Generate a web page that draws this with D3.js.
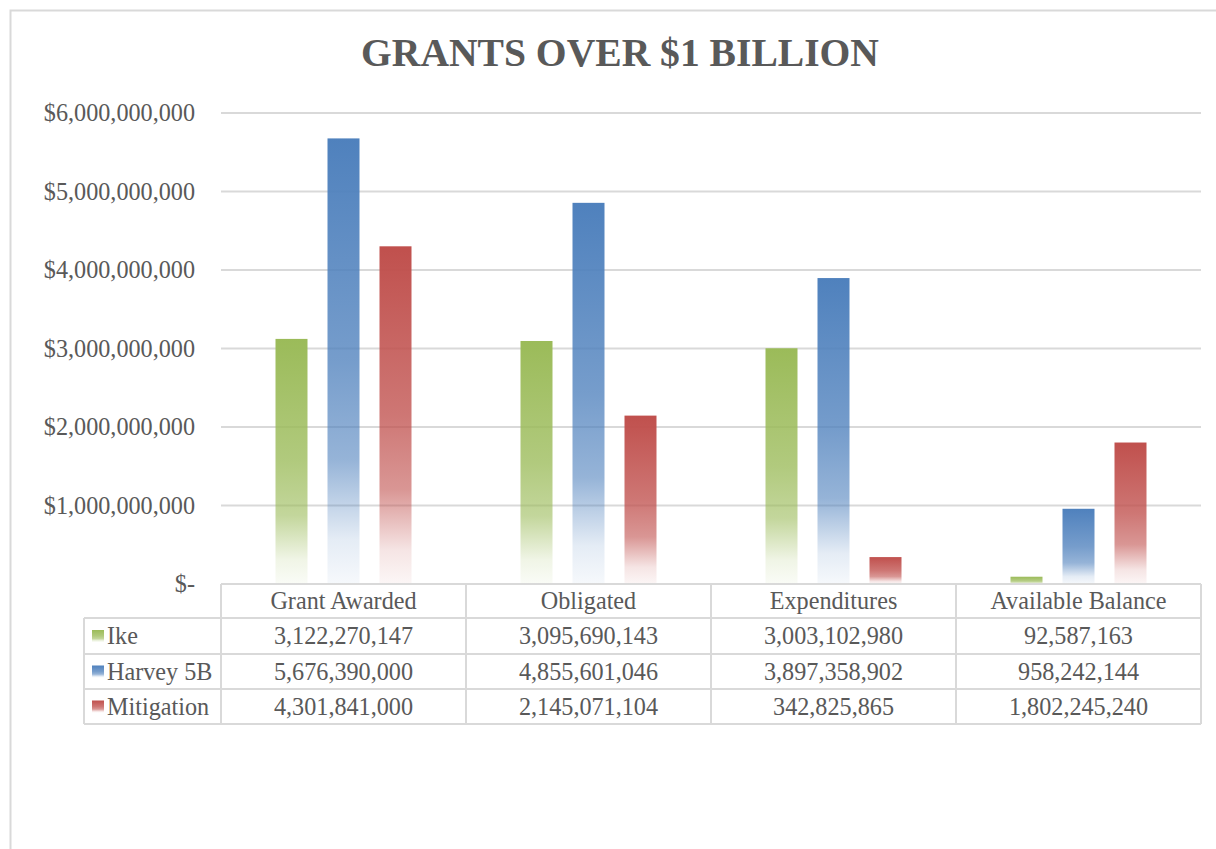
<!DOCTYPE html>
<html>
<head>
<meta charset="utf-8">
<script src="https://cdn.jsdelivr.net/npm/d3@7"></script>
<style>
  html, body { margin: 0; padding: 0; background: #fff; }
  svg { display: block; }
  text { font-family: "Liberation Serif", "Times New Roman", serif; fill: #595959; }
</style>
</head>
<body>
<svg id="chart" width="1216" height="849"></svg>
<script>
const categories = ["Grant Awarded", "Obligated", "Expenditures", "Available Balance"];
const seriesNames = ["Ike", "Harvey 5B", "Mitigation"];
const ike = [3122270147, 3095690143, 3003102980, 92587163];
const harvey = [5676390000, 4855601046, 3897358902, 958242144];
const mitigation = [4301841000, 2145071104, 342825865, 1802245240];
const yTicks = [0, 1e9, 2e9, 3e9, 4e9, 5e9, 6e9];
const seriesColors = ["#9BBB59", "#4F81BD", "#C0504D"];

const series = [ike, harvey, mitigation].map((vals, i) => ({ name: seriesNames[i], color: seriesColors[i], values: vals, id: "g" + i }));

const svg = d3.select("#chart");
const W = 1216, H = 849;
const plot = { left: 221, right: 1201, top: 113, bottom: 584 };
const tableLeft = 84;
const rowEdges = [584, 618, 654, 689, 724];
const fs = 24.2;

// outer border
svg.append("path").attr("d", `M10.5,${H} L10.5,10.5 L${W},10.5`).attr("fill", "none").attr("stroke", "#d9d9d9").attr("stroke-width", 2);

// gradients
const defs = svg.append("defs");
series.forEach(s => {
  const g = defs.append("linearGradient").attr("id", s.id).attr("x1", 0).attr("y1", 0).attr("x2", 0).attr("y2", 1);
  [[0, 1], [0.5, 0.78], [0.72, 0.6], [0.82, 0.35], [0.9, 0.15], [1, 0.05]].forEach(([o, op]) => {
    g.append("stop").attr("offset", o).attr("stop-color", s.color).attr("stop-opacity", op);
  });
});

const y = d3.scaleLinear().domain([0, 6e9]).range([plot.bottom, plot.top]);
const x0 = d3.scaleBand().domain(categories).range([plot.left, plot.right]).padding(0);
const x1 = d3.scaleBand().domain(seriesNames).range([0, 156]).paddingInner(0.3846).paddingOuter(0.1923);

// gridlines
svg.append("g").selectAll("line").data(yTicks.filter(d => d > 0)).join("line")
  .attr("x1", plot.left).attr("x2", plot.right)
  .attr("y1", d => y(d)).attr("y2", d => y(d))
  .attr("stroke", "#d9d9d9").attr("stroke-width", 2);

// y axis labels
const fmt = d3.format(",");
svg.append("g").selectAll("text").data(yTicks).join("text")
  .attr("x", 195).attr("y", d => y(d)).attr("dy", "0.35em")
  .attr("text-anchor", "end").attr("font-size", fs)
  .text(d => d === 0 ? "$-" : "$" + fmt(d));

// bars
const groups = svg.append("g").selectAll("g").data(categories).join("g")
  .attr("transform", c => `translate(${x0(c) + x0.bandwidth() / 2 - 78},0)`);
groups.selectAll("rect").data((c, ci) => series.map(s => ({ s, v: s.values[ci] }))).join("rect")
  .attr("x", d => x1(d.s.name)).attr("width", x1.bandwidth())
  .attr("y", d => y(d.v)).attr("height", d => y(0) - y(d.v))
  .attr("fill", d => `url(#${d.s.id})`);

// title
svg.append("text").attr("x", 620).attr("y", 66).attr("text-anchor", "middle")
  .attr("font-size", 39.6).attr("font-weight", "bold").attr("fill", "#595959")
  .text("GRANTS OVER $1 BILLION");

// data table
const tg = svg.append("g");
const lineColor = "#d9d9d9";
tg.append("line").attr("x1", plot.left).attr("x2", plot.right).attr("y1", rowEdges[0]).attr("y2", rowEdges[0]).attr("stroke", lineColor).attr("stroke-width", 2);
rowEdges.slice(1).forEach(ry => {
  tg.append("line").attr("x1", tableLeft).attr("x2", plot.right).attr("y1", ry).attr("y2", ry).attr("stroke", lineColor).attr("stroke-width", 2);
});
tg.append("line").attr("x1", tableLeft).attr("x2", tableLeft).attr("y1", rowEdges[1]).attr("y2", rowEdges[4]).attr("stroke", lineColor).attr("stroke-width", 2);
categories.forEach(c => {
  tg.append("line").attr("x1", x0(c)).attr("x2", x0(c)).attr("y1", rowEdges[0]).attr("y2", rowEdges[4]).attr("stroke", lineColor).attr("stroke-width", 2);
});
tg.append("line").attr("x1", plot.right).attr("x2", plot.right).attr("y1", rowEdges[0]).attr("y2", rowEdges[4]).attr("stroke", lineColor).attr("stroke-width", 2);

tg.selectAll("text.hdr").data(categories).join("text").attr("class", "hdr")
  .attr("x", c => x0(c) + x0.bandwidth() / 2).attr("y", (rowEdges[0] + rowEdges[1]) / 2).attr("dy", "0.35em")
  .attr("text-anchor", "middle").attr("font-size", fs).text(c => c);

series.forEach((s, si) => {
  const cy = (rowEdges[si + 1] + rowEdges[si + 2]) / 2;
  tg.append("rect").attr("x", 92).attr("y", cy - 6).attr("width", 12).attr("height", 12).attr("fill", `url(#${s.id})`);
  tg.append("text").attr("x", 107).attr("y", cy).attr("dy", "0.35em").attr("font-size", fs).text(s.name);
  tg.selectAll(null).data(s.values).join("text")
    .attr("x", (v, i) => x0(categories[i]) + x0.bandwidth() / 2).attr("y", cy).attr("dy", "0.35em")
    .attr("text-anchor", "middle").attr("font-size", fs).text(v => fmt(v));
});
</script>
</body>
</html>
